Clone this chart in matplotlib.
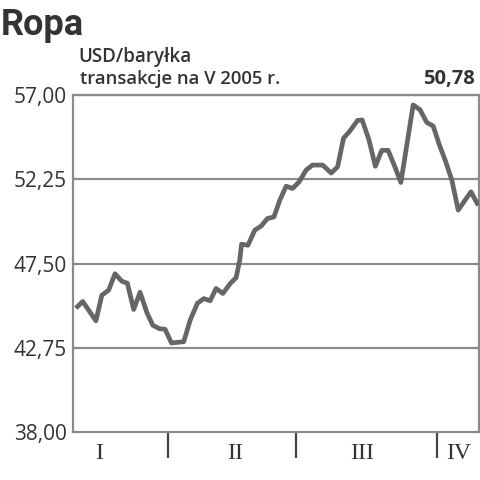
import matplotlib
matplotlib.use("Agg")
import matplotlib.pyplot as plt
from matplotlib.ticker import FixedLocator, NullFormatter

# Day of year 2005 (fractional) for each quote
days = [11.7, 13.2, 16.1, 17.4, 18.9, 20.3, 21.8, 23.0, 24.4, 25.8,
        27.3, 28.6, 30.0, 31.3, 32.7, 35.4, 36.8, 38.4, 39.8, 41.2,
        42.5, 44.0, 45.6, 46.9, 47.7, 48.1, 49.5, 51.0, 52.4, 53.8,
        55.2, 56.5, 57.9, 59.3, 60.7, 62.3, 63.7, 65.9, 67.8, 69.2,
        70.5, 71.9, 73.6, 74.6, 76.1, 77.5, 78.9, 80.3, 81.8, 83.1,
        85.8, 87.3, 88.8, 90.2, 91.5, 92.9, 94.3, 95.7, 97.2, 98.5, 100.1]
prices = [44.98, 45.36, 44.27, 45.71, 46.00, 46.92, 46.50, 46.39, 44.91, 45.88,
          44.73, 44.02, 43.83, 43.79, 43.02, 43.09, 44.30, 45.26, 45.52, 45.40,
          46.09, 45.81, 46.37, 46.70, 47.69, 48.59, 48.53, 49.38, 49.61, 50.04,
          50.12, 51.07, 51.86, 51.73, 52.09, 52.77, 53.05, 53.05, 52.60, 52.95,
          54.56, 54.97, 55.57, 55.59, 54.46, 52.98, 53.88, 53.88, 52.94, 52.07,
          56.44, 56.17, 55.45, 55.25, 54.23, 53.28, 52.20, 50.51, 51.07, 51.54, 50.78]

y_ticks = [38.00, 42.75, 47.50, 52.25, 57.00]
month_starts = [32, 60, 91]
month_label_pos = [16.9, 46.6, 74.5, 95.8]
month_labels = ["I", "II", "III", "IV"]
title = "Ropa"
unit = "USD/baryłka"
subtitle = "transakcje na V 2005 r."
last_value = "50,78"

fig = plt.figure(figsize=(4.8, 4.8), dpi=100)
ax = fig.add_axes([72.7 / 480, 1 - 432 / 480, (478.7 - 72.7) / 480, (432 - 95) / 480])

grid_c = "#8c8c8c"
for v in y_ticks[1:]:
    ax.axhline(v, color=grid_c, lw=1.6, zorder=1)

ax.plot(days, prices, color="#666666", lw=3.4, solid_joinstyle="round",
        solid_capstyle="butt", zorder=3)

ax.set_xlim(11.0, 100.2)
ax.set_ylim(38.0, 57.0)

for s in ["left", "right", "bottom", "top"]:
    ax.spines[s].set_color(grid_c)
    ax.spines[s].set_linewidth(1.6)

ax.set_yticks(y_ticks)
ax.set_yticklabels([f"{v:.2f}".replace(".", ",") for v in y_ticks])
ax.tick_params(axis="y", length=0, pad=4, labelsize=15, labelcolor="#333333")
for lbl in ax.get_yticklabels():
    lbl.set_family("Open Sans")

ax.xaxis.set_major_locator(FixedLocator(month_starts))
ax.xaxis.set_major_formatter(NullFormatter())
ax.tick_params(axis="x", which="major", length=19, width=1.6, color="#444444", direction="out")
ax.set_xticks(month_label_pos, minor=True)
ax.set_xticklabels(month_labels, minor=True)
ax.tick_params(axis="x", which="minor", length=0, pad=8, labelsize=17, labelcolor="#333333")
for lbl in ax.get_xticklabels(minor=True):
    lbl.set_family("Liberation Serif")

fig.text(1 / 480, 1 - 35 / 480, title, fontsize=26, fontweight="bold",
         family="Roboto", color="#333333", va="baseline", ha="left")
fig.text(78 / 480, 1 - 62 / 480, unit, fontsize=13.5, fontweight="semibold",
         family="Open Sans", color="#333333", va="baseline", ha="left")
fig.text(80 / 480, 1 - 84 / 480, subtitle, fontsize=13.3, fontweight="semibold",
         family="Open Sans", color="#333333", va="baseline", ha="left")
fig.text(475 / 480, 1 - 84 / 480, last_value, fontsize=14.5, fontweight="bold",
         family="Open Sans", color="#333333", va="baseline", ha="right")

fig.savefig("out.png", dpi=100, facecolor="white")
